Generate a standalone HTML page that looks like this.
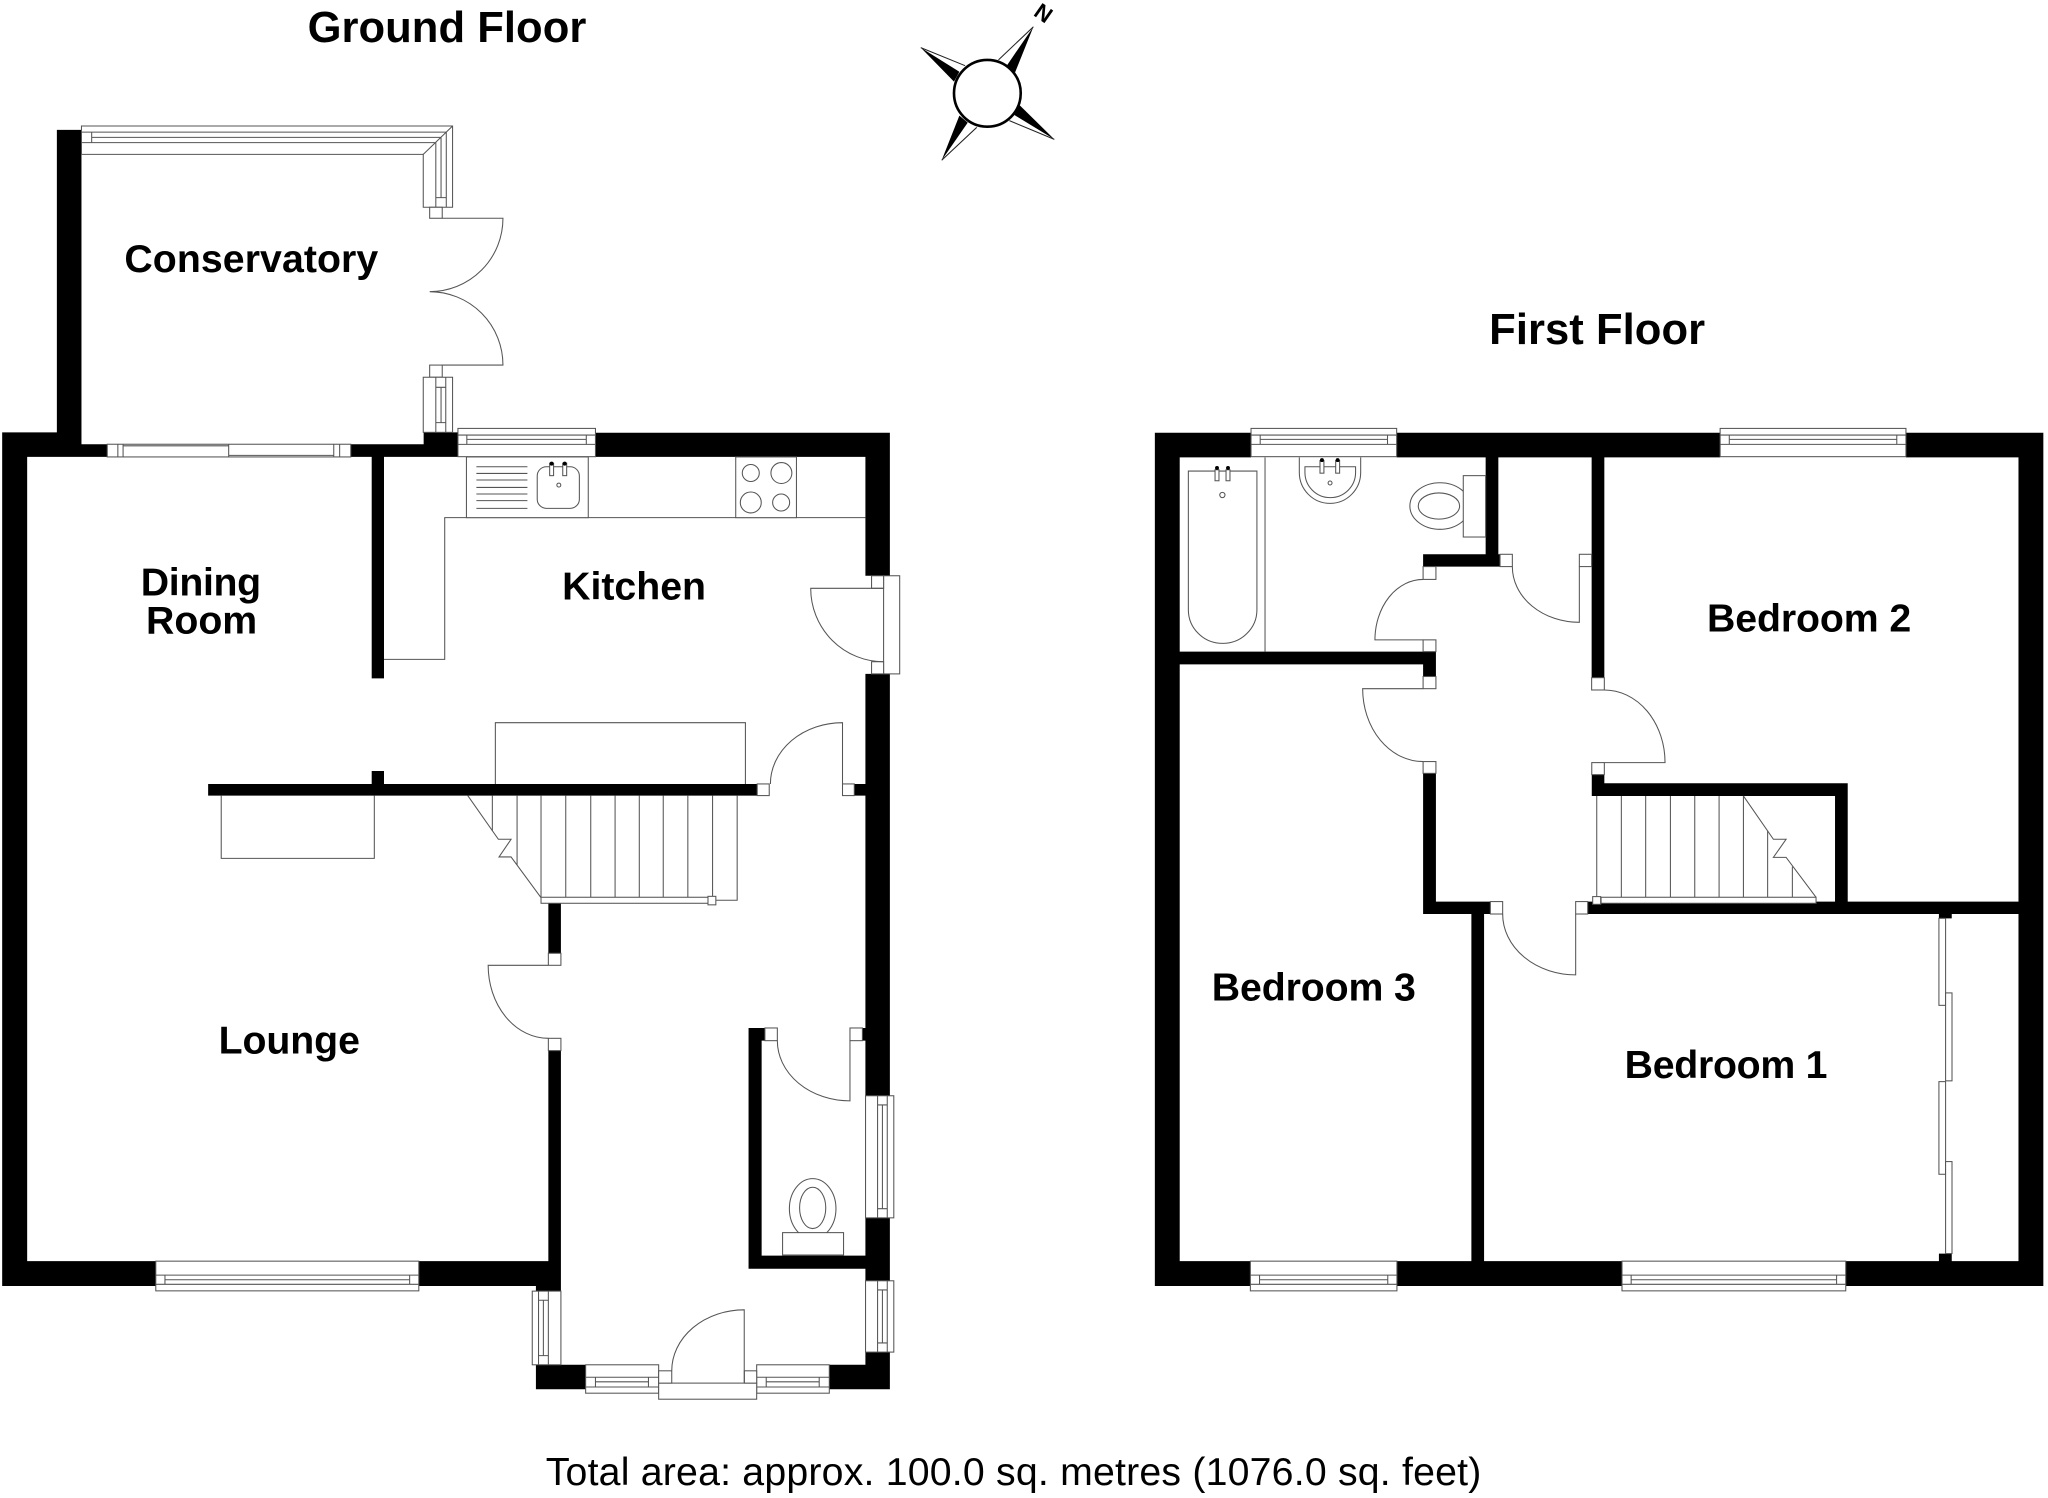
<!DOCTYPE html>
<html lang="en"><head><meta charset="utf-8"><title>Floor plan</title>
<style>
html,body{margin:0;padding:0;background:#fff}
svg{display:block}
.w{fill:#000;stroke:none}
.l{fill:none;stroke:#555;stroke-width:.8}
.s{fill:#fff;stroke:#555;stroke-width:.8}
text{font-family:"Liberation Sans",sans-serif;fill:#000}
.b{font-weight:700;font-size:30px}
</style></head><body>
<svg xmlns="http://www.w3.org/2000/svg" width="2048" height="1498" viewBox="0 0 1565 1144.8">
<rect width="1565" height="1145" fill="#fff"/>
<!-- ground floor walls -->
<path class="w" d="M43.4 99.3H62.2V339.5H82V349.2H20.7V982.8H1.6V330.4H43.4Z
M268 339.5H323.7V330.4H350V349.2H268Z
M455 330.7H680V440H661.3V349.2H455Z
M661.3 515H680V837.4H661.3Z
M661.3 930.7H680V978.8H661.3Z
M661.3 1033.3H680V1061.7H633.7V1043H661.3Z
M1.6 963.8H119V982.8H1.6Z
M320 963.8H419V802.9H428.6V986.7H409.5V982.8H320Z
M419 690.4H428.6V728.5H419Z
M284 349H293.4V518.4H284Z
M284 589.2H293.4V599.1H578.6V608H159V599.1H284Z
M652.8 599.1H661.3V608H652.8Z
M572 785.6H584.5V795.3H582V959.6H661.3V969.6H572Z
M659 785.6H661.3V795.3H659Z
M409.5 1043H447.5V1061.7H409.5Z"/>
<!-- conservatory glazing -->
<path class="s" d="M62.2 96.3H345.8V158.4H323.4V118H62.2Z"/>
<path class="l" d="M62.2 101H341V158.4M62.2 109H333V158.4M70 105H337V151M345.8 96.3L323.4 118M70 101V109M333 151H341"/>
<rect class="s" x="328.3" y="158.4" width="9.6" height="8.4"/>
<rect class="s" x="328.3" y="279" width="9.6" height="9.3"/>
<rect class="s" x="323.4" y="288.3" width="22.4" height="42.1"/>
<path class="l" d="M333 288.3V330.4M340.6 288.3V330.4M337 296V323M333 296H340.6M333 323H340.6"/>
<path class="l" d="M337.9 166.8H384.3A56 56 0 0 1 328.3 222.9A56 56 0 0 1 384.3 279H337.9"/>
<!-- sliding door -->
<rect class="s" x="81.9" y="339.5" width="186.1" height="9.7"/>
<path class="l" d="M90 339.5V349.2M94 339.5V349.2M174.7 339.5V349.2M255 339.5V349.2M259.5 339.5V349.2M94 340.7H174.7M174.7 348H255"/>
<!-- kitchen -->
<rect class="s" x="349.9" y="327.4" width="105.1" height="21.6"/>
<path class="l" d="M349.9 332.5H455M349.9 339.6H455M356.7 332.5V339.6M448 332.5V339.6M356.7 335.8H448"/>
<path class="l" d="M293.4 503.9H339.8V395.6H661.3"/>
<rect class="s" x="356.4" y="349.2" width="93.1" height="46.4"/>
<path class="l" d="M364 356.7H403M364 361.8H403M364 366.8H403M364 372.5H403M364 377.5H403M364 382.6H403M364 388.5H403"/>
<rect class="l" x="410.5" y="356.7" width="32.2" height="31.8" rx="7"/>
<rect class="s" x="420" y="354" width="3" height="9.5"/><rect class="s" x="430" y="354" width="3" height="9.5"/>
<circle cx="421.5" cy="354.3" r="1.5"/><circle cx="431.5" cy="354.3" r="1.5"/>
<circle class="l" cx="427" cy="370.7" r="1.5"/>
<rect class="s" x="562.2" y="349.2" width="46.4" height="46.4"/>
<circle class="l" cx="573.7" cy="361.5" r="6.5"/><circle class="l" cx="597.1" cy="361.5" r="8"/>
<circle class="l" cx="573.7" cy="384" r="8"/><circle class="l" cx="596.9" cy="384" r="6.5"/>
<!-- kitchen door -->
<rect class="s" x="675.2" y="440" width="12.3" height="75"/>
<rect class="s" x="666" y="440" width="9.2" height="9.6"/><rect class="s" x="666" y="505.7" width="9.2" height="9.3"/>
<path class="l" d="M675.2 449.6H619.5A55.7 56.1 0 0 0 675.2 505.7"/>
<!-- cupboards and stairs -->
<path class="l" d="M378.5 599.1V552.3H569.6V599.1"/>
<path class="l" d="M169 608V656H286V608"/>
<rect class="s" x="578.6" y="599.1" width="9.2" height="8.9"/>
<rect class="s" x="643.8" y="599.1" width="9" height="8.9"/>
<path class="l" d="M643.8 599.1V552.3A55.1 46.8 0 0 0 588.7 599.1"/>
<path class="l" d="M357.4 608L380.8 641.4H390.5L381.3 654.9H390.5L413.4 686"/>
<path class="l" d="M376.2 608V635M395.1 608V661M413.4 608V686M432.3 608V686M451.4 608V686M470 608V686M488.5 608V686M506.8 608V686M525.6 608V686M544.5 608V686M563.3 608V688H547"/>
<rect class="s" x="413.4" y="685.7" width="128.2" height="4.6"/>
<rect class="s" x="541" y="685" width="6" height="6.5"/>
<!-- lounge door -->
<rect class="s" x="419" y="728.5" width="9.6" height="9.2"/>
<rect class="s" x="419" y="793.5" width="9.6" height="9.4"/>
<path class="l" d="M419 737.7H373A46 55.8 0 0 0 419 793.5"/>
<!-- lounge window -->
<rect class="s" x="119" y="963.8" width="201" height="22.7"/>
<path class="l" d="M119 981.5H320M119 974.5H320M126 974.5V981.5M313 974.5V981.5M126 978H313"/>
<!-- WC -->
<rect class="s" x="584.5" y="785.6" width="9.5" height="9.7"/>
<rect class="s" x="649.5" y="785.6" width="9.5" height="9.7"/>
<path class="l" d="M649.5 795.3V841.3A55.5 46 0 0 1 594 795.3"/>
<rect class="s" x="661.4" y="837.4" width="21.6" height="93.3"/>
<path class="l" d="M670.6 837.4V930.7M678 837.4V930.7M674.3 844.4V923.7M670.6 844.4H678M670.6 923.7H678"/>
<ellipse class="l" cx="621" cy="923.7" rx="17.8" ry="23"/>
<ellipse class="l" cx="621" cy="923.1" rx="10" ry="15.8"/>
<rect class="s" x="598" y="942" width="46.6" height="17.1"/>
<rect class="s" x="661.4" y="978.8" width="21.6" height="54.5"/>
<path class="l" d="M670.6 978.8V1033.3M678 978.8V1033.3M674.3 985.8V1026.3M670.6 985.8H678M670.6 1026.3H678"/>
<!-- entrance -->
<rect class="s" x="406.7" y="986.7" width="21.9" height="56.3"/>
<path class="l" d="M411.5 986.7V1043M419 986.7V1043M415.2 993.7V1036M411.5 993.7H419M411.5 1036H419"/>
<rect class="s" x="447.5" y="1043" width="55.8" height="21.7"/>
<path class="l" d="M447.5 1052.5H503.3M447.5 1060H503.3M455 1052.5V1060M495.5 1052.5V1060M455 1056H495.5"/>
<rect class="s" x="578.2" y="1043" width="55.5" height="21.7"/>
<path class="l" d="M578.2 1052.5H633.7M578.2 1060H633.7M585.5 1052.5V1060M626 1052.5V1060M585.5 1056H626"/>
<rect class="s" x="503.3" y="1057" width="74.9" height="12.3"/>
<rect class="s" x="503.3" y="1047.6" width="10" height="9.4"/>
<rect class="s" x="568.8" y="1047.6" width="9.4" height="9.4"/>
<path class="l" d="M568.7 1057V1001A55.4 46.6 0 0 0 513.3 1047.6"/>

<g transform="translate(-1.5 0)">
<!-- first floor walls -->
<path class="w" d="M884 330.7H957.5V349.5H903V963.8H957V982.8H884Z
M1068.8 330.7H1316V349.5H1068.8Z
M1458 330.7H1563V982.8H1412V963.8H1544V349.5H1458Z
M1069 963.8H1241V982.8H1069Z
M1136.8 349H1146.5V423.6H1147.8V433H1089V423.6H1136.8Z
M1217.8 349H1227.5V517.9H1217.8Z
M903 498H1098.8V517H1089V507.7H903Z
M1089 591H1098.8V689H1140.4V698.5H1135.6V963.8H1125.9V698.5H1089Z
M1214.8 689H1544V698.5H1214.8Z
M1217.9 592H1227.5V608.3H1217.9Z
M1217.9 598.6H1413.5V608.3H1217.9Z
M1403.8 598.6H1413.5V698.5H1403.8Z
M1483.2 698.5H1493V701.8H1483.2Z
M1483.2 958H1493V963.8H1483.2Z"/>
<!-- first floor windows -->
<rect class="s" x="957.5" y="327.4" width="111.3" height="21.6"/>
<path class="l" d="M957.5 332.5H1068.8M957.5 339.6H1068.8M964.5 332.5V339.6M1061.8 332.5V339.6M964.5 335.8H1061.8"/>
<rect class="s" x="1316" y="327.4" width="142" height="21.6"/>
<path class="l" d="M1316 332.5H1458M1316 339.6H1458M1323 332.5V339.6M1451 332.5V339.6M1323 335.8H1451"/>
<rect class="s" x="957" y="963.8" width="112" height="22.7"/>
<path class="l" d="M957 981.5H1069M957 974.5H1069M964 974.5V981.5M1062 974.5V981.5M964 978H1062"/>
<rect class="s" x="1241" y="963.8" width="171" height="22.7"/>
<path class="l" d="M1241 981.5H1412M1241 974.5H1412M1248 974.5V981.5M1405 974.5V981.5M1248 978H1405"/>
<!-- bathroom -->
<path class="l" d="M968.2 349.5V498"/>
<path class="l" d="M909.6 360H962V466A26.2 25.7 0 0 1 909.6 466Z"/>
<rect class="s" x="930" y="359" width="3" height="8.4"/><rect class="s" x="938.4" y="359" width="3" height="8.4"/>
<circle cx="931.5" cy="357.6" r="1.5"/><circle cx="939.9" cy="357.6" r="1.5"/>
<circle class="l" cx="935.6" cy="378.3" r="2"/>
<path class="l" d="M994.4 349.5V361A23.45 23.7 0 0 0 1041.3 361V349.5"/>
<path class="l" d="M998.7 356.7H1037.4V361A19.35 19.3 0 0 1 998.7 361Z"/>
<rect class="s" x="1010.2" y="352" width="3" height="9.6"/><rect class="s" x="1022.2" y="352" width="3" height="9.6"/>
<circle cx="1011.7" cy="351.6" r="1.5"/><circle cx="1023.7" cy="351.6" r="1.5"/>
<circle class="l" cx="1017.9" cy="369.1" r="1.5"/>
<ellipse class="l" cx="1101.9" cy="386.7" rx="23" ry="17.8"/>
<ellipse class="l" cx="1101.1" cy="386.7" rx="15.8" ry="10"/>
<rect class="s" x="1119.7" y="363.5" width="17.1" height="46.9"/>
<!-- first floor doors -->
<rect class="s" x="1089" y="433" width="9.8" height="9.8"/>
<rect class="s" x="1089" y="489" width="9.8" height="9"/>
<path class="l" d="M1089 442.8A36.8 46.2 0 0 0 1052.2 489H1089"/>
<rect class="s" x="1147.8" y="423.6" width="9.4" height="9.4"/>
<rect class="s" x="1208.4" y="423.6" width="9.4" height="9.4"/>
<path class="l" d="M1208.4 433V475.6A51.2 42.6 0 0 1 1157.2 433"/>
<rect class="s" x="1089" y="517" width="9.8" height="9.3"/>
<rect class="s" x="1089" y="582" width="9.8" height="9"/>
<path class="l" d="M1089 526.3H1042.8A46.2 55.7 0 0 0 1089 582"/>
<rect class="s" x="1217.8" y="517.9" width="9.7" height="9.4"/>
<rect class="s" x="1217.9" y="582.8" width="9.6" height="9.2"/>
<path class="l" d="M1227.5 527.3A46.4 55.5 0 0 1 1273.9 582.8H1227.5"/>
<rect class="s" x="1140.4" y="689" width="9.4" height="9.5"/>
<rect class="s" x="1205.6" y="689" width="9.2" height="9.5"/>
<path class="l" d="M1205.6 698.5V745A55.8 46.5 0 0 1 1149.8 698.5"/>
<!-- first floor stairs -->
<path class="l" d="M1333.8 608.3L1356.7 641.4H1366.4L1356.7 655.2H1366.4L1389.3 685.7"/>
<path class="l" d="M1221.7 608.3V685.7M1240.5 608.3V685.7M1259.1 608.3V685.7M1278 608.3V685.7M1296.6 608.3V685.7M1315.2 608.3V685.7M1333.8 608.3V685.7M1352.3 634.8V685.7M1371.2 662.3V685.7"/>
<rect class="s" x="1225" y="685.7" width="164.3" height="4.6"/>
<rect class="s" x="1218.6" y="685.2" width="6.1" height="5.9"/>
<!-- wardrobe -->
<rect class="s" x="1483.2" y="701.8" width="5.1" height="66.5"/>
<rect class="s" x="1488.3" y="758.8" width="4.9" height="67.2"/>
<rect class="s" x="1483.2" y="826.6" width="5.1" height="70.8"/>
<rect class="s" x="1488.3" y="887.7" width="4.9" height="70.3"/>
</g>
<!-- compass -->
<g>
<path d="M789.7 20.4L769.3 50.2L775.7 55.3Z"/>
<path d="M703.6 36.4L733.1 54.8L729 62.4Z"/>
<path d="M805.7 106.5L779 80.2L775.2 87.9Z"/>
<path d="M719.6 122.5L733.1 88.4L739.5 93.7Z"/>
<path d="M789.7 20.4L763 45.8M703.6 36.4L737.5 50.2M805.7 106.5L771.3 92.2M719.6 122.5L746.4 97.3" fill="none" stroke="#222" stroke-width=".8"/>
<circle cx="754.5" cy="71.3" r="25.5" fill="#fff" stroke="#000" stroke-width="2"/>
<text transform="translate(789 11.3) rotate(35)" font-size="17" font-weight="700">N</text>
</g>
<!-- labels -->
<text x="235" y="32" font-size="33.3" font-weight="700" textLength="213">Ground Floor</text>
<text x="1138" y="263" font-size="33.3" font-weight="700" textLength="165">First Floor</text>
<text class="b" x="95" y="208" textLength="194">Conservatory</text>
<text class="b" x="429.5" y="458" textLength="110">Kitchen</text>
<text class="b" x="107.5" y="455" textLength="92">Dining</text>
<text class="b" x="111.5" y="484" textLength="85">Room</text>
<text class="b" x="167" y="805" textLength="108">Lounge</text>
<text class="b" x="1304.5" y="482.5" textLength="156">Bedroom 2</text>
<text class="b" x="926" y="764.5" textLength="156">Bedroom 3</text>
<text class="b" x="1241.5" y="824" textLength="155">Bedroom 1</text>
<text x="417" y="1135" font-size="30" textLength="715">Total area: approx. 100.0 sq. metres (1076.0 sq. feet)</text>
</svg>
</body></html>
